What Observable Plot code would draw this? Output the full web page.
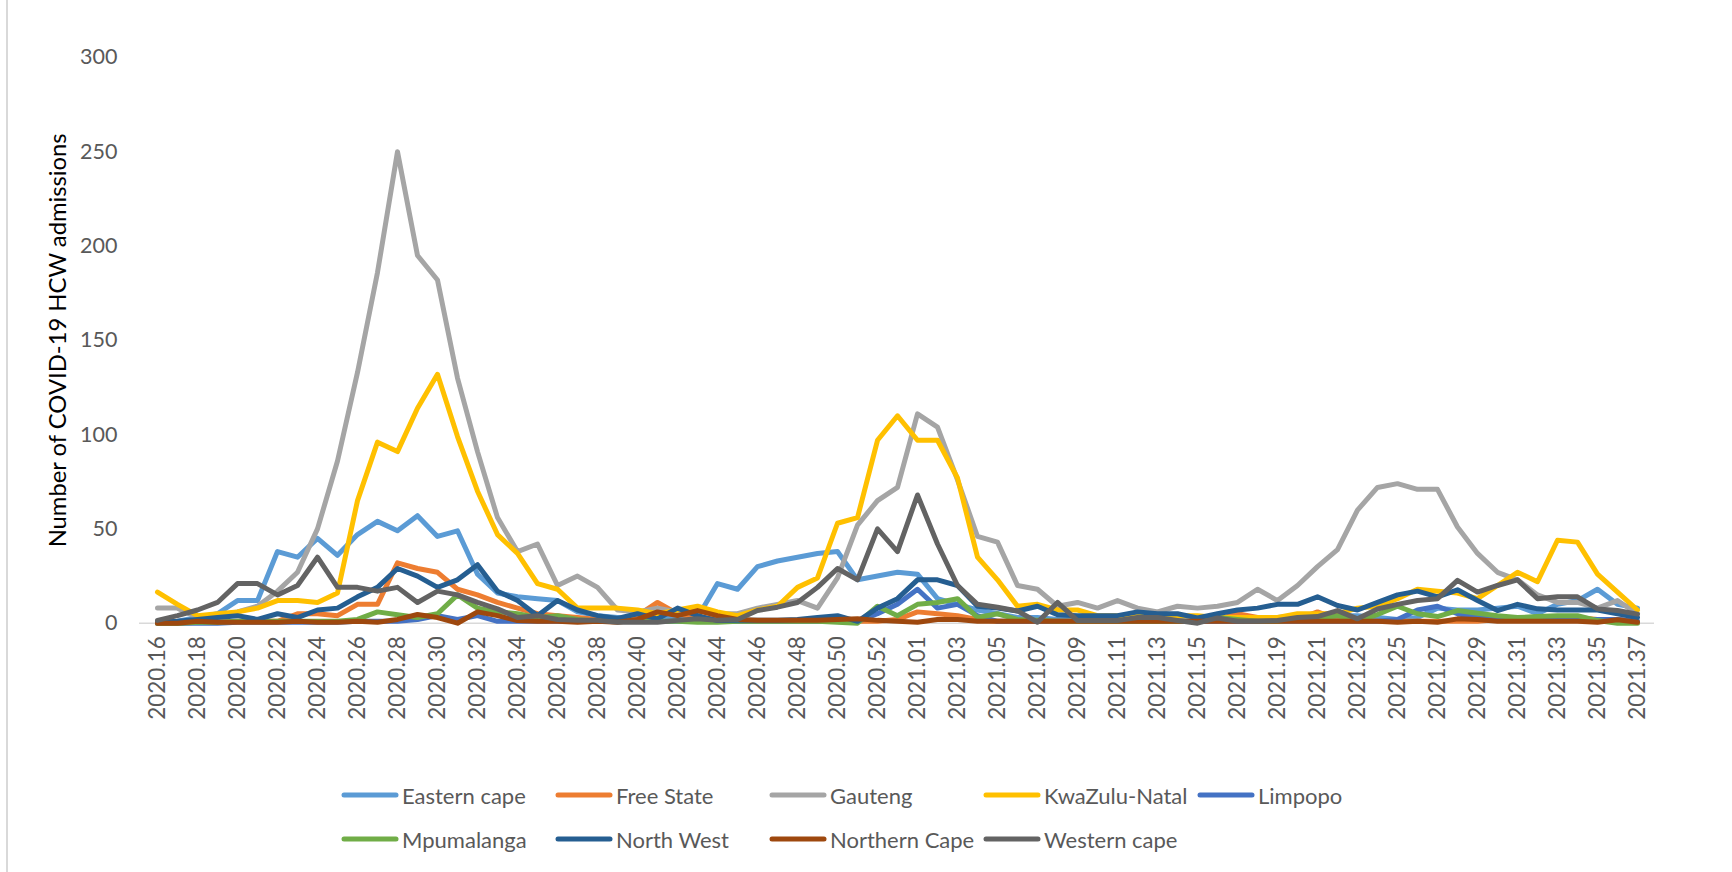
<!DOCTYPE html>
<html>
<head>
<meta charset="utf-8">
<script src="https://cdn.jsdelivr.net/npm/d3@7"></script>
<script src="https://cdn.jsdelivr.net/npm/@observablehq/plot@0.6"></script>
<style>
  html, body { margin: 0; padding: 0; background: #fff; }
  #page { position: relative; width: 1732px; height: 872px; overflow: hidden; font-family: Lato, "Open Sans", sans-serif; background: #fff; }
  #chart { position: absolute; left: 0; top: 0; }
  #edge { position: absolute; left: 6px; top: 0; width: 2px; height: 872px; background: #d9d9d9; }
  #legend { position: absolute; left: 341px; top: 773px; display: grid; grid-template-columns: repeat(5, 214px); grid-auto-rows: 44px; }
  .item { display: flex; align-items: center; font-size: 22px; color: #595959; white-space: nowrap; }
  .item svg { flex: none; margin-right: 3px; }
</style>
</head>
<body>
<div id="page">
  <div id="chart"></div>
  <div id="edge"></div>
  <div id="legend"></div>
</div>
<script>
// Epidemiological weeks (year.week)
const weeks = [
  "2020.16","2020.17","2020.18","2020.19","2020.20","2020.21","2020.22","2020.23","2020.24","2020.25",
  "2020.26","2020.27","2020.28","2020.29","2020.30","2020.31","2020.32","2020.33","2020.34","2020.35",
  "2020.36","2020.37","2020.38","2020.39","2020.40","2020.41","2020.42","2020.43","2020.44","2020.45",
  "2020.46","2020.47","2020.48","2020.49","2020.50","2020.51","2020.52","2020.53",
  "2021.01","2021.02","2021.03","2021.04","2021.05","2021.06","2021.07","2021.08","2021.09","2021.10",
  "2021.11","2021.12","2021.13","2021.14","2021.15","2021.16","2021.17","2021.18","2021.19","2021.20",
  "2021.21","2021.22","2021.23","2021.24","2021.25","2021.26","2021.27","2021.28","2021.29","2021.30",
  "2021.31","2021.32","2021.33","2021.34","2021.35","2021.36","2021.37"
];

// Weekly COVID-19 healthcare-worker admissions per province
const easternCape = [0.5,1,3,5,12,12,38,35,45,36, 47,54,49,57,46,49,26,16,14,13, 12,6,4,3,2,2,3,3,21,18, 30,33,35,37,38,23,25,27,26,13, 10,7,5,3,3,2,2,1,1,1, 1,1,1,1,1,2,3,4,4,4, 4,3,2,3,8,7,7,8,9,5, 10,12,18,10,8];
const freeState = [0,0,0.5,0.5,1,1,1,5,5,4, 10,10,32,29,27,18,15,11,8,5, 4,3,2,1,4,11,5,3,2,1, 1,1,1,1,1,1,1,2,6,5, 4,2,1,1,1,1,1,1,1,1, 1,1,1,2,5,3,2,2,6,2, 1,1,1,1,1,1,1,2,2,3, 3,3,2,2,1];
const gauteng = [8,8,3,4,6,9,17,27,50,86, 133,186,250,195,182,130,91,56,38,42, 20,25,19,7,6,8,6,7,5,5, 8,10,12,8,24,52,65,72,111,104, 76,46,43,20,18,9,11,8,12,8, 6,9,8,9,11,18,12,20,30,39, 60,72,74,71,71,51,37,27,23,15, 11,11,8,12,5];
const kwaZuluNatal = [16.5,10,4,5,6,8,12,12,11,16, 65,96,91,114,132,99,70,47,37,21, 18,8,8,8,7,5,7,9,6,4, 7,9,19,24,53,56,97,110,97,97, 77,35,23,9,10,7,7,4,4,4, 4,4,4,3,3,3,3,5,5,5, 8,9,13,18,17,16,13,20,27,22, 44,43,26,16.5,7];
const limpopo = [0,0,0,0,0.5,0.5,0.5,0.5,0.5,0.5, 1,1,1,2,4,2,4,1,1,1, 1,1,1,1,1,1,1,1,1,1, 1,1,1,1,1,1,5,10,18,8, 10,4,1,1,1,1,1,1,1,1, 1,1,1,1,1,1,1,1,1,1, 1,1,2,7,9,5,3,3,2,2, 2,2,2,2,1];
const mpumalanga = [0,0,0.5,0.5,1,1,1,1,1,1, 2,6,4.5,3,5,15,8,6,5,3, 4,2,1,1,1,1,1,0.5,0.5,1, 1,1,1,1,0.5,0,9,4,10,11, 13,3,5,2,1.5,1,1,1,1,1, 1,1,1,3,2,1,1,2,2,4, 1.4,4.6,9,5,3.5,6.7,5.3,4,3,3.5, 4,4,1.4,0,0];
const northWest = [0.5,1,2,3,4,2,5,3,7,8, 14,19,29,25,19,23,31,17,12,4, 12,7,4,2.5,5,2.3,8,4,1.4,1.5, 1.5,1.5,2,3,4,1,8,13,23,23, 20,9,8,6.5,9,4.5,4,4,4,6, 5,5,2.8,5,7,8,10,10,14,9.4, 7,11,15,17,14,17.7,12,6.7,10,7.6, 7,7,7,5,3];
const northernCape = [0,0,1,0.5,0.5,0.5,0.5,1,0.5,0.5, 1,0.5,2,4.6,3,0,6,4,1.4,1, 1,0.5,1,0.5,2,6,4,6.7,4,2, 1.5,1.5,1.5,1.5,2,2.3,1.5,1,0.5,2, 2,1,1,1,1,1,1,1,1,1, 1,1,1,1,1,1,1,1,1,1, 1,1,0.5,1,0.5,2.3,2,1,1,1, 1,1,0.5,1.8,0.5];
const westernCape = [1.5,4,7,11,21,21,15,20,35,19, 19,17,19,11,17,15,11,7.6,3,4, 2,1.5,1.5,0.5,0.5,0.5,1.5,2.3,1.5,2, 6.7,8.5,11,19,29,23,50,38,68,42, 20,10,8.5,6.5,0.5,11,1.4,1.4,1.4,3, 3,1.4,0,2.8,1,1,1.4,3,3.5,6.7, 2.3,7.5,10,12,13,22.7,16.5,20,23,13, 14,14,7.6,6.7,4.8];

const regions = ["Eastern cape","Free State","Gauteng","KwaZulu-Natal","Limpopo","Mpumalanga","North West","Northern Cape","Western cape"];
const regionColors = ["#5B9BD5","#ED7D31","#A5A5A5","#FFC000","#4472C4","#70AD47","#255E91","#9E480E","#636363"];
const yTicks = [0, 50, 100, 150, 200, 250, 300];
const yTitle = "Number of COVID-19 HCW admissions";

const series = [easternCape, freeState, gauteng, kwaZuluNatal, limpopo, mpumalanga, northWest, northernCape, westernCape];
const rows = [];
series.forEach((vals, s) => vals.forEach((v, i) => rows.push({region: regions[s], week: weeks[i], value: v})));

const xTicks = weeks.filter((d, i) => i % 2 === 0);

const chart = Plot.plot({
  width: 1732,
  height: 770,
  marginTop: 57,
  marginBottom: 147.3,
  marginLeft: 139,
  marginRight: 78,
  style: {fontFamily: "Lato, 'Open Sans', sans-serif", background: "transparent", overflow: "visible"},
  x: {type: "point", domain: weeks, padding: 0.5, label: null},
  y: {domain: [0, 300], label: null},
  color: {domain: regions, range: regionColors},
  marks: [
    Plot.ruleY([0], {stroke: "#d9d9d9", strokeWidth: 1.5}),
    Plot.axisX({ticks: xTicks, tickSize: 0, tickPadding: 13, tickRotate: -90, fontSize: 22.5, fill: "#595959", label: null}),
    Plot.axisY({ticks: yTicks, tickSize: 0, tickPadding: 22, fontSize: 21.5, fill: "#595959", label: null}),
    Plot.line(rows, {x: "week", y: "value", z: "region", stroke: "region", strokeWidth: 5, strokeLinejoin: "round", strokeLinecap: "round"}),
    Plot.text([yTitle], {text: d => d, frameAnchor: "left", dx: -81, rotate: -90, textAnchor: "middle", lineAnchor: "middle", fontSize: 23.8, fill: "#000"})
  ]
});
document.getElementById("chart").appendChild(chart);

// Legend: swatch + region name, two rows
const legend = d3.select("#legend");
regions.forEach((r, i) => {
  const item = legend.append("div").attr("class", "item");
  const sw = item.append("svg").attr("width", 58).attr("height", 10);
  sw.append("line").attr("x1", 3).attr("x2", 55).attr("y1", 5).attr("y2", 5)
    .attr("stroke", regionColors[i]).attr("stroke-width", 5).attr("stroke-linecap", "round");
  item.append("span").text(r);
});
</script>
</body>
</html>
